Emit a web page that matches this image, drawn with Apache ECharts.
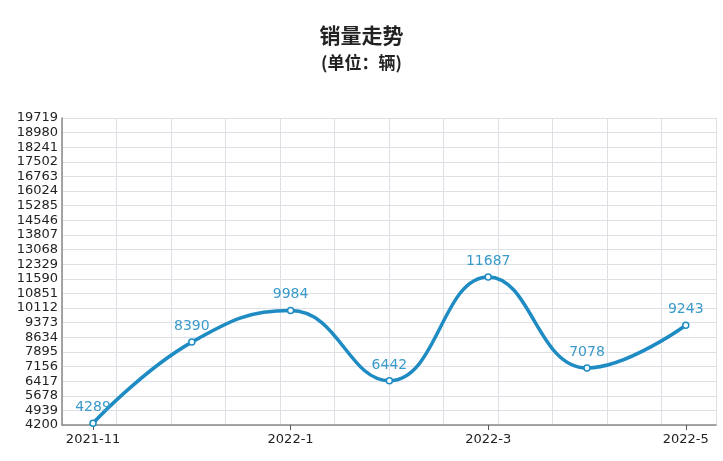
<!DOCTYPE html>
<html>
<head>
<meta charset="utf-8">
<script src="https://cdn.jsdelivr.net/npm/echarts@6/dist/echarts.min.js"></script>
<style>html,body{margin:0;padding:0;background:#fff}#main{width:723px;height:461px}</style>
</head>
<body>
<div id="main"></div>
<script>
var months = ['2021-11', '2021-12', '2022-1', '2022-2', '2022-3', '2022-4', '2022-5'];
var sales = [4289, 8390, 9984, 6442, 11687, 7078, 9243];
var labelIdx = [0, 2, 4, 6];

var myChart = echarts.init(document.getElementById('main'), null, { renderer: 'canvas' });
var font = 'Verdana, "DejaVu Sans", sans-serif';

var option = {
    title: {
        text: '销量走势',
        subtext: '(单位：辆)',
        left: 'center',
        top: 20,
        itemGap: 8,
        textStyle: { fontSize: 21, fontWeight: 'bold', color: '#222', fontFamily: '"Noto Sans CJK SC", sans-serif' },
        subtextStyle: { fontSize: 17, fontWeight: 'bold', color: '#222', fontFamily: '"Noto Sans CJK SC", sans-serif' }
    },
    grid: { left: 62, right: 7, top: 118, bottom: 36 },
    xAxis: [
        {
            type: 'value',
            min: -0.314,
            max: 6.306,
            splitLine: { show: false },
            axisLine: { lineStyle: { color: '#888', width: 1.5 } },
            axisTick: { show: true, customValues: labelIdx, lineStyle: { color: '#555' } },
            axisLabel: {
                customValues: labelIdx,
                color: '#222', fontSize: 13, fontFamily: font,
                formatter: function (v) { return months[Math.round(v)]; }
            }
        },
        {
            type: 'value',
            min: 0, max: 12, interval: 1,
            position: 'bottom',
            axisLine: { show: false }, axisTick: { show: false }, axisLabel: { show: false },
            splitLine: { show: true, lineStyle: { color: '#dde1e6' } }
        }
    ],
    yAxis: {
        type: 'value',
        min: 4200,
        max: 19719,
        interval: 739,
        axisLine: { show: true, onZero: false, lineStyle: { color: '#888', width: 1.5 } },
        axisTick: { show: false },
        axisLabel: { color: '#222', fontSize: 13, fontFamily: font, margin: 4, formatter: function (v) { return String(v); } },
        splitLine: { lineStyle: { color: '#dde1e6' } }
    },
    series: [{
        type: 'line',
        smooth: 0.45,
        data: sales.map(function (v, i) { return [i, v]; }),
        symbol: 'circle',
        symbolSize: 6,
        itemStyle: { color: '#fff', borderColor: '#1f8bc3', borderWidth: 1.5 },
        lineStyle: { color: '#1f8bc3', width: 3.5 },
        label: { show: true, position: 'top', color: '#3a9acb', fontSize: 14, fontFamily: font },
        z: 5
    }]
};

myChart.setOption(option);
window.addEventListener('resize', myChart.resize);
</script>
</body>
</html>
